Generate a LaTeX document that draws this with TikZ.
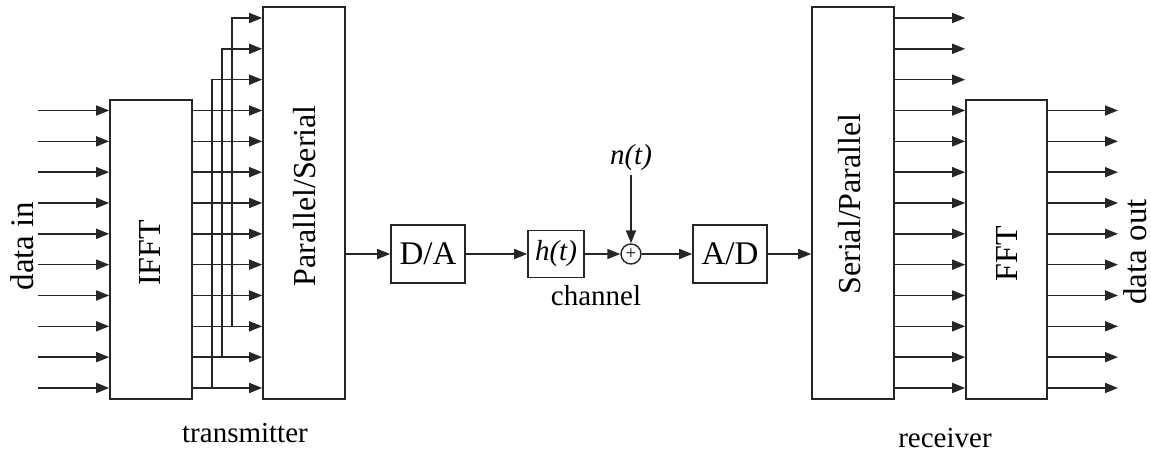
\documentclass[tikz,border=0pt]{standalone}
\usepackage{fontspec}
\setmainfont{Liberation Serif}
\usetikzlibrary{arrows.meta}
\begin{document}
\begin{tikzpicture}[x=1pt,y=-1pt,
  line width=1.6pt,
  box/.style={draw=black!85, line width=1.6pt, inner sep=0pt},
  arr/.style={draw=black!85, line width=1.6pt, -{Triangle[length=13pt,width=10pt]}},
  big/.style={font=\fontsize{33}{38}\selectfont},
  rot/.style={rotate=90, font=\fontsize{32}{36}\selectfont, inner sep=0pt},
  small/.style={font=\fontsize{29}{33}\selectfont},
  ital/.style={font=\fontsize{29}{34}\selectfont\itshape}]
\useasboundingbox (0,0) rectangle (1151,453);

% row coordinates
\foreach \j in {0,...,12} {
  \coordinate (r\j) at (0,{18+30.83*\j});
}

% blocks
\node[box, minimum width=82pt, minimum height=299pt] (ifft) at (151,249.5) {};
\node[box, minimum width=82pt, minimum height=392pt] (ps) at (304,203) {};
\node[box, minimum width=74pt, minimum height=58pt] (da) at (428,254) {};
\node[box, minimum width=56pt, minimum height=47pt] (ht) at (556,254) {};
\node[draw=black!85, line width=1.4pt, circle, minimum size=20pt, inner sep=0pt] (add) at (631,254) {};
\node[box, minimum width=74pt, minimum height=58pt] (ad) at (730,254) {};
\node[box, minimum width=82pt, minimum height=392pt] (sp) at (853,203) {};
\node[box, minimum width=81pt, minimum height=299pt] (fft) at (1006.5,249.5) {};

% labels in blocks
\node[rot] (lifft) at (150,253) {IFFT};
\node[rot] (lps) at (305,196) {Parallel/Serial};
\node[rot] (lsp) at (850,204) {Serial/Parallel};
\node[rot] (lfft) at (1007,254) {FFT};
\node[big] (lda) at (da) {D/A};
\node[big] (lad) at (ad) {A/D};
\node[ital] (lht) at (ht) {h(t)};
\node[font=\fontsize{19}{19}\selectfont, inner sep=0pt] (plus) at (add) {+};

% outer labels
\node[rot, font=\fontsize{33}{38}\selectfont] (din) at (22,246) {data in};
\node[rot, font=\fontsize{33}{38}\selectfont] (dout) at (1135,252) {data out};
\node[ital] (nt) at (631,158) {n(t)};
\node[small] (chan) at (596,296) {channel};
\node[small] (tx) at (245,433) {transmitter};
\node[small] (rx) at (945,438) {receiver};

% transmitter inputs
\foreach \j in {3,...,12} {
  \coordinate (di\j) at (38,{18+30.83*\j});
  \draw[arr] (di\j) -- (ifft.west |- di\j);
  \draw[arr] (ifft.east |- di\j) -- (ps.west |- di\j);
}
% branches to top inputs of P/S
\coordinate (b10) at (232,{18+30.83*10});
\coordinate (b11) at (222,{18+30.83*11});
\coordinate (b12) at (212,{18+30.83*12});
\draw[arr] (b10) |- (ps.west |- r0);
\draw[arr] (b11) |- (ps.west |- r1);
\draw[arr] (b12) |- (ps.west |- r2);

% channel chain
\draw[arr] (ps.east |- da) -- (da);
\draw[arr] (da) -- (ht);
\draw[arr] (ht) -- (add);
\draw[arr] (nt) -- (add);
\draw[arr] (add) -- (ad);
\draw[arr] (ad) -- (sp.west |- ad);

% receiver
\foreach \j in {0,...,12} {
  \draw[arr] (sp.east |- r\j) -- (fft.west |- r\j);
}
\foreach \j in {3,...,12} {
  \coordinate (do\j) at (1118,{18+30.83*\j});
  \draw[arr] (fft.east |- do\j) -- (do\j);
}
\end{tikzpicture}
\end{document}
